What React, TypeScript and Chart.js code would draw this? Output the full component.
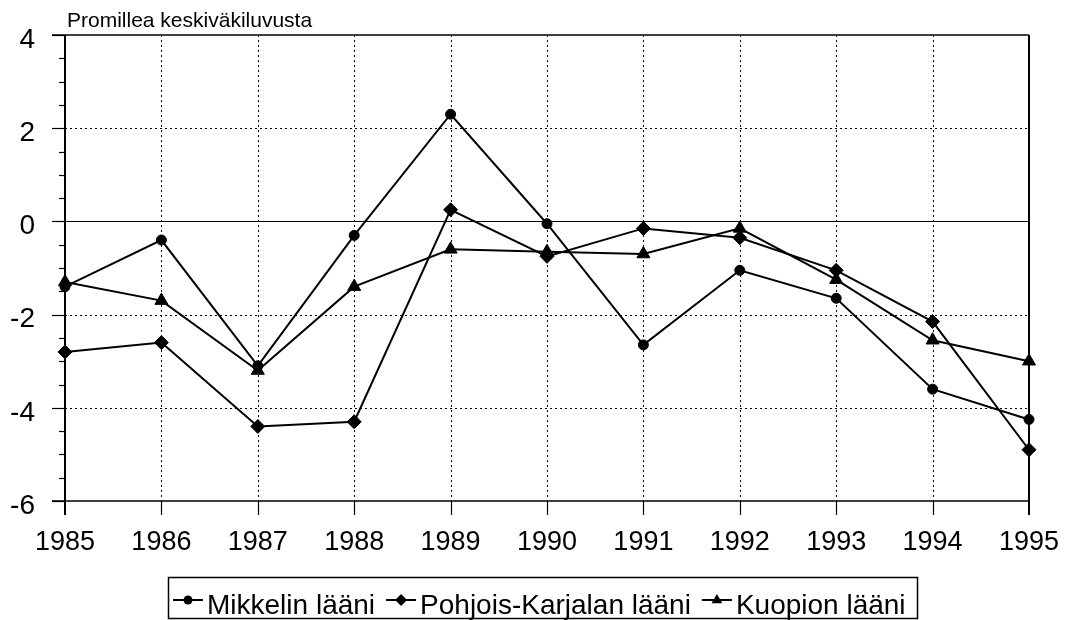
import React, { useEffect, useRef } from 'react';
import { Chart, registerables } from 'chart.js';

Chart.register(...registerables);

const years = ['1985', '1986', '1987', '1988', '1989', '1990', '1991', '1992', '1993', '1994', '1995'];
const mikkelin = [-1.4, -0.4, -3.1, -0.3, 2.3, -0.05, -2.65, -1.05, -1.65, -3.6, -4.25];
const pohjoisKarjalan = [-2.8, -2.6, -4.4, -4.3, 0.25, -0.75, -0.15, -0.35, -1.05, -2.15, -4.9];
const kuopion = [-1.3, -1.7, -3.2, -1.4, -0.6, -0.65, -0.7, -0.15, -1.25, -2.55, -3.0];
const seriesNames = ['Mikkelin lääni', 'Pohjois-Karjalan lääni', 'Kuopion lääni'];
const pointStyles = ['circle', 'rectRot', 'triangle'];
const yMin = -6;
const yMax = 4;
const yStep = 2;
const yMinorStep = 0.5;
const yTitle = 'Promillea keskiväkiluvusta';

const FONT = '"Liberation Sans", Arial, sans-serif';

function drawMarker(ctx: CanvasRenderingContext2D, style: string, x: number, y: number, r: number) {
  ctx.beginPath();
  if (style === 'circle') {
    ctx.arc(x, y, r, 0, Math.PI * 2);
  } else if (style === 'rectRot') {
    ctx.moveTo(x, y - r);
    ctx.lineTo(x + r, y);
    ctx.lineTo(x, y + r);
    ctx.lineTo(x - r, y);
    ctx.closePath();
  } else {
    ctx.moveTo(x, y - r);
    ctx.lineTo(x + r * 0.9, y + r * 0.55);
    ctx.lineTo(x - r * 0.9, y + r * 0.55);
    ctx.closePath();
  }
  ctx.fill();
}

const framePlugin = {
  id: 'framePlugin',
  beforeDatasetsDraw(chart: any) {
    const { ctx, chartArea, scales } = chart;
    const { left, right, top, bottom } = chartArea;
    const x = scales.x;
    const y = scales.y;
    ctx.save();
    ctx.strokeStyle = '#000';
    // dotted vertical grid
    ctx.lineWidth = 1;
    ctx.setLineDash([2, 3]);
    for (let i = 1; i < years.length - 1; i++) {
      const px = Math.round(x.getPixelForValue(i)) + 0.5;
      ctx.beginPath();
      ctx.moveTo(px, top);
      ctx.lineTo(px, bottom);
      ctx.stroke();
    }
    // dotted horizontal grid
    for (let v = yMin + yStep; v < yMax; v += yStep) {
      if (v === 0) continue;
      const py = Math.round(y.getPixelForValue(v)) + 0.5;
      ctx.beginPath();
      ctx.moveTo(left, py);
      ctx.lineTo(right, py);
      ctx.stroke();
    }
    ctx.setLineDash([]);
    // zero line
    const p0 = Math.round(y.getPixelForValue(0)) + 0.5;
    ctx.lineWidth = 1.2;
    ctx.beginPath();
    ctx.moveTo(left - 13, p0);
    ctx.lineTo(right, p0);
    ctx.stroke();
    // top and bottom lines
    ctx.lineWidth = 1.5;
    ctx.beginPath();
    ctx.moveTo(left - 13, top);
    ctx.lineTo(right, top);
    ctx.moveTo(left - 13, bottom);
    ctx.lineTo(right, bottom);
    ctx.stroke();
    // left axis and right border
    ctx.lineWidth = 2;
    ctx.beginPath();
    ctx.moveTo(left, top);
    ctx.lineTo(left, bottom + 14);
    ctx.moveTo(right, top);
    ctx.lineTo(right, bottom + 14);
    ctx.stroke();
    // y ticks
    ctx.lineWidth = 1.2;
    for (let v = yMin; v <= yMax + 1e-9; v += yMinorStep) {
      const py = Math.round(y.getPixelForValue(v)) + 0.5;
      const major = Math.abs(v / yStep - Math.round(v / yStep)) < 1e-9;
      ctx.beginPath();
      ctx.moveTo(major ? left - 13 : left - 6, py);
      ctx.lineTo(left, py);
      ctx.stroke();
    }
    // x ticks
    for (let i = 1; i < years.length - 1; i++) {
      const px = Math.round(x.getPixelForValue(i)) + 0.5;
      ctx.beginPath();
      ctx.moveTo(px, bottom);
      ctx.lineTo(px, bottom + 14);
      ctx.stroke();
    }
    ctx.restore();
  },
  afterDraw(chart: any) {
    const { ctx, chartArea } = chart;
    ctx.save();
    // axis title
    ctx.fillStyle = '#000';
    ctx.font = `21px ${FONT}`;
    ctx.textBaseline = 'alphabetic';
    ctx.textAlign = 'left';
    ctx.fillText(yTitle, chartArea.left + 2, 27);
    // legend
    const boxLeft = 168;
    const boxRight = 917;
    const boxTop = 577;
    const boxBottom = 618;
    ctx.lineWidth = 1.5;
    ctx.strokeStyle = '#000';
    ctx.strokeRect(boxLeft + 0.5, boxTop + 0.5, boxRight - boxLeft, boxBottom - boxTop);
    ctx.font = `28px ${FONT}`;
    let xx = 173;
    const markerY = 600;
    const textY = 614;
    seriesNames.forEach((name, i) => {
      ctx.lineWidth = 2;
      ctx.beginPath();
      ctx.moveTo(xx, markerY);
      ctx.lineTo(xx + 30, markerY);
      ctx.stroke();
      drawMarker(ctx, pointStyles[i], xx + 15, markerY, i === 0 ? 4.5 : 6);
      ctx.fillText(name, xx + 34, textY);
      xx = xx + 34 + ctx.measureText(name).width + 11;
    });
    ctx.restore();
  },
};

export default function App() {
  const canvasRef = useRef<HTMLCanvasElement | null>(null);

  useEffect(() => {
    const canvas = canvasRef.current;
    if (!canvas) return;
    const seriesData = [mikkelin, pohjoisKarjalan, kuopion];
    const radii = [5, 7, 7.5];
    const chart = new Chart(canvas, {
      type: 'line',
      data: {
        labels: years,
        datasets: seriesNames.map((name, i) => ({
          label: name,
          data: seriesData[i],
          borderColor: '#000',
          backgroundColor: '#000',
          borderWidth: 2,
          pointStyle: pointStyles[i] as any,
          pointRadius: radii[i],
          pointBorderWidth: 1,
          pointBackgroundColor: '#000',
          pointBorderColor: '#000',
          tension: 0,
          fill: false,
        })),
      },
      options: {
        animation: false,
        responsive: false,
        devicePixelRatio: 1,
        layout: { padding: { left: 0, top: 35, right: 37, bottom: 0 } },
        plugins: {
          legend: { display: false },
          tooltip: { enabled: false },
          title: { display: false },
        },
        scales: {
          x: {
            type: 'category',
            offset: false,
            grid: { display: false, drawTicks: false },
            border: { display: false },
            ticks: {
              color: '#000',
              font: { family: FONT, size: 27 },
              padding: 25,
              autoSkip: false,
              maxRotation: 0,
            },
            afterFit(scale: any) {
              scale.height = 119;
              scale.paddingLeft = 0;
              scale.paddingRight = 0;
            },
          },
          y: {
            min: yMin,
            max: yMax,
            grid: { display: false, drawTicks: false },
            border: { display: false },
            ticks: {
              stepSize: yStep,
              color: '#000',
              font: { family: FONT, size: 28 },
              padding: 30,
              labelOffset: 5,
            },
            afterFit(scale: any) {
              scale.width = 65;
              scale.paddingTop = 0;
              scale.paddingBottom = 0;
            },
          },
        },
      },
      plugins: [framePlugin],
    });
    return () => chart.destroy();
  }, []);

  return (
    <div style={{ position: 'fixed', left: 0, top: 0, width: 1066, height: 620, background: '#fff' }}>
      <canvas ref={canvasRef} width={1066} height={620} style={{ display: 'block' }} />
    </div>
  );
}
